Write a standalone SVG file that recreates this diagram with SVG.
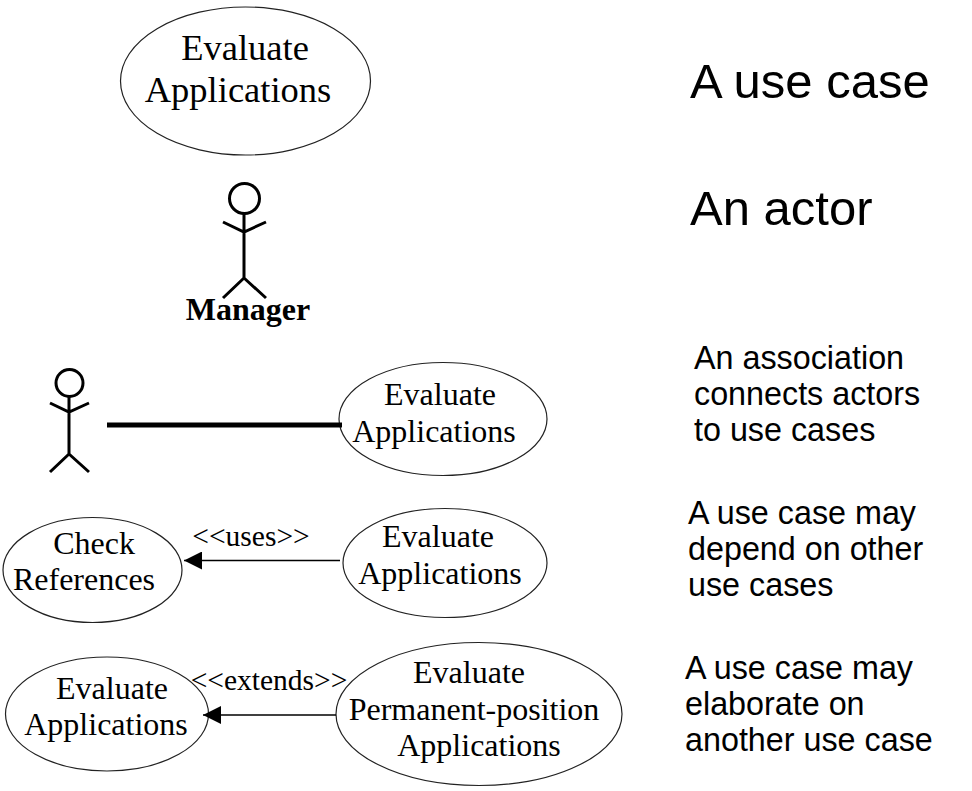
<svg xmlns="http://www.w3.org/2000/svg" width="972" height="791" viewBox="0 0 972 791">
<style>
.u{fill:#fff;stroke:#222;stroke-width:1.2}
.l{fill:none;stroke:#000;stroke-width:3}
.c{stroke:#000;stroke-width:1.5;fill:none}
text{fill:#000}
.s{font-family:"Liberation Serif",serif;font-size:32px;text-anchor:middle}
.t{font-size:36.500px}
.e{font-family:"Liberation Serif",serif;font-size:29.500px;text-anchor:middle}
.a{font-family:"Liberation Sans",sans-serif;font-size:32.300px}
.b{font-family:"Liberation Sans",sans-serif;font-size:49px}
</style>
<defs>
<marker id="ah" markerUnits="userSpaceOnUse" markerWidth="19" markerHeight="18" refX="18" refY="9" orient="auto"><path d="M0 0L18 9L0 18Z"/></marker></defs>
<rect width="972" height="791" fill="#fff"/>
<g id="uc1"><ellipse class="u" cx="245.500" cy="81" rx="125" ry="74"/><text class="s t" x="245" y="60">Evaluate</text><text class="s t" x="238" y="102">Applications</text></g>
<g id="actor1"><circle cx="244.500" cy="198.500" r="15" fill="none" stroke="#000" stroke-width="3"/><path class="l" d="M244 213V278M223 222 244 232 266 222M244 278 223 298M244 278 266 298"/><text x="248" y="320" text-anchor="middle" font-family="Liberation Serif" font-weight="bold" font-size="32">Manager</text></g>
<g id="actor2"><circle cx="69.500" cy="383" r="13.500" fill="none" stroke="#000" stroke-width="3"/><path class="l" d="M69 396V454M50 403 69 412 89 403M69 454 50 472M69 454 89 472"/></g>
<g id="uc2"><ellipse class="u" cx="443" cy="419" rx="104" ry="56.500"/><text class="s" x="440" y="405">Evaluate</text><text class="s" x="434" y="442">Applications</text></g>
<g id="uc3"><ellipse class="u" cx="92.500" cy="570" rx="89.500" ry="52.500"/><text class="s" x="94" y="554">Check</text><text class="s" x="84" y="590">References</text></g>
<g id="uc4"><ellipse class="u" cx="445" cy="563" rx="102" ry="54.500"/><text class="s" x="438" y="547">Evaluate</text><text class="s" x="440" y="584">Applications</text></g>
<g id="uc5"><ellipse class="u" cx="107" cy="714" rx="101.500" ry="57"/><text class="s" x="112" y="699">Evaluate</text><text class="s" x="106" y="735">Applications</text></g>
<g id="uc6"><ellipse class="u" cx="479" cy="714" rx="143" ry="71.500"/><text class="s" x="469" y="683">Evaluate</text><text class="s" x="474" y="720">Permanent-position</text><text class="s" x="479" y="756">Applications</text></g>
<g id="conn">
<path d="M107 425H342" stroke="#000" stroke-width="5" fill="none"/>
<path class="c" d="M340 560.500H184" marker-end="url(#ah)"/>
<path class="c" d="M336 715H203" marker-end="url(#ah)"/>
</g>
<g id="labels">
<text class="e" x="251" y="546">&lt;&lt;uses&gt;&gt;</text>
<text class="e" x="269" y="690">&lt;&lt;extends&gt;&gt;</text>
<text class="b" x="690" y="98">A use case</text>
<text class="b" x="690" y="225">An actor</text>
<text class="a" x="694" y="369">An association</text>
<text class="a" x="694" y="405">connects actors</text>
<text class="a" x="694" y="441">to use cases</text>
<text class="a" x="688" y="524">A use case may</text>
<text class="a" x="688" y="560">depend on other</text>
<text class="a" x="688" y="596">use cases</text>
<text class="a" x="685" y="679">A use case may</text>
<text class="a" x="685" y="715">elaborate on</text>
<text class="a" x="685" y="751">another use case</text>
</g>
</svg>
